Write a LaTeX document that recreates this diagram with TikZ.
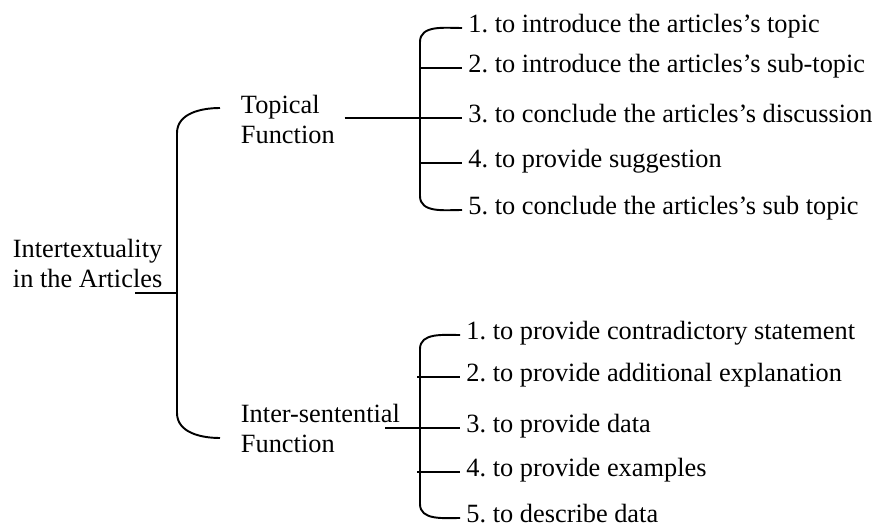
\documentclass[tikz,border=0pt]{standalone}
\usepackage{fontspec}
\setmainfont{Liberation Serif}
\usetikzlibrary{positioning,calc}
\frenchspacing

\begin{document}
\begin{tikzpicture}[
  x=0.02cm, y=-0.02cm, line width=1.1pt,
  font=\fontsize{15}{17.07}\selectfont,
  lbl/.style={align=left, inner sep=0},
  item/.style={anchor=west, inner xsep=0.11cm, inner ysep=0,
               text height=0.7em, text depth=0.15em},
]
  \useasboundingbox (0,0) rectangle (882,527);
  % main labels
  \node[lbl, anchor=west] (root)  at (12,263)  {Intertextuality\\in the Articles};
  \node[lbl, anchor=west] (topic) at (240,119) {Topical\\Function};
  \node[lbl, anchor=west] (inter) at (240,428) {Inter-sentential\\Function};
  % topical functions
  \node[item] (t1) at (462,28)  {1. to introduce the articles's topic};
  \node[item] (t2) at (462,68)  {2. to introduce the articles's sub-topic};
  \node[item] (t3) at (462,118) {3. to conclude the articles's discussion};
  \node[item] (t4) at (462,163) {4. to provide suggestion};
  \node[item] (t5) at (462,210) {5. to conclude the articles's sub topic};
  % inter-sentential functions
  \node[item] (s1) at (460,335) {1. to provide contradictory statement};
  \node[item] (s2) at (460,377) {2. to provide additional explanation};
  \node[item] (s3) at (460,428) {3. to provide data};
  \node[item] (s4) at (460,472) {4. to provide examples};
  \node[item] (s5) at (460,518) {5. to describe data};
  % bracket junctions
  \coordinate (lb)  at (177,293);
  \coordinate (lt)  at (220,108);
  \coordinate (lbt) at (220,438);
  \coordinate (rootend)  at (135,293);
  \coordinate (interend) at (385,428);
  \coordinate (ub) at (420,118);
  \coordinate (db) at (420,428);
  % left bracket
  \draw (lt) to[out=180,in=90] ($(lb |- lt)+(0,25)$)
        -- ($(lb |- lbt)-(0,25)$) to[out=-90,in=180] (lbt);
  \draw (rootend) -- (lb);
  % upper bracket
  \draw (t1.west) to[out=180,in=90] ($(ub |- t1.west)+(0,14)$)
        -- ($(ub |- t5.west)-(0,14)$) to[out=-90,in=180] (t5.west);
  \draw (topic.east |- ub) ++(0.18cm,0) -- (ub);
  \foreach \i in {2,3,4} { \draw (ub |- t\i.west) -- (t\i.west); }
  % lower bracket
  \draw (s1.west) to[out=180,in=90] ($(db |- s1.west)+(0,14)$)
        -- ($(db |- s5.west)-(0,14)$) to[out=-90,in=180] (s5.west);
  \draw (interend) -- (db);
  \foreach \i in {2,3,4} { \draw ([xshift=-0.06cm]db |- s\i.west) -- (s\i.west); }
\end{tikzpicture}
\end{document}
